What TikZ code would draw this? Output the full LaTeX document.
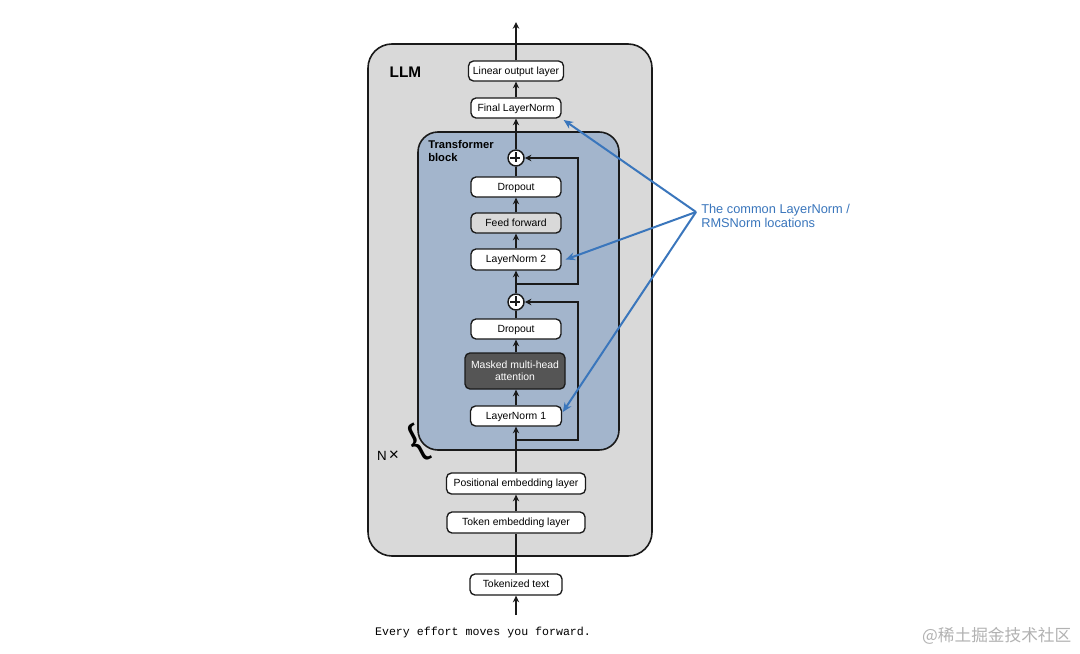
\documentclass[tikz,border=0pt]{standalone}
\usepackage{fontspec}
\setmainfont{Liberation Sans}
\setmonofont{Liberation Mono}
\newfontfamily\cjk{Noto Sans CJK SC}
\usetikzlibrary{arrows.meta}
\definecolor{llmgray}{HTML}{D9D9D9}
\definecolor{tbblue}{HTML}{A3B5CC}
\definecolor{mhagray}{HTML}{555555}
\definecolor{annblue}{HTML}{3A76BC}
\definecolor{edge}{HTML}{1A1A1A}
\tikzset{
  box/.style={draw=edge, line width=1pt, rounded corners=3.75pt, fill=white,
    font=\fontsize{7.8}{9}\selectfont, inner sep=0pt, align=center},
  onel/.style={text height=5.4pt, text depth=0.6pt},
  plusc/.style={draw=edge, line width=1.1pt, circle, fill=white, minimum size=12pt, inner sep=0pt},
  flow/.style={draw=edge, line width=1.4pt, -{Stealth[length=5pt,width=4.8pt]}},
  plainflow/.style={draw=edge, line width=1.4pt},
  ann/.style={draw=annblue, line width=1.5pt, -{Stealth[length=7pt,width=6pt]}},
}
\begin{document}
\begin{tikzpicture}[x=0.75pt,y=-0.75pt]
\useasboundingbox (0,0) rectangle (1080,653);
\fill[white] (0,0) rectangle (1080,653);
% LLM container
\draw[draw=edge, line width=1.2pt, fill=llmgray, rounded corners=18pt] (368,44) rectangle (652,556);
\node[anchor=west, font=\bfseries\fontsize{11.5}{13}\selectfont] (llmlabel) at (385,72) {LLM};
% Transformer block
\draw[draw=edge, line width=1.2pt, fill=tbblue, rounded corners=15pt] (418,132) rectangle (619,450);
\node[anchor=north west, align=left, font=\bfseries\fontsize{8.4}{10}\selectfont, inner sep=0pt] (tblabel) at (428,140) {Transformer\\block};
% boxes
\node[box, onel, minimum width=71.25pt, minimum height=15pt] (lin) at (516,71) {Linear output layer};
\node[box, onel, minimum width=67.5pt, minimum height=15pt] (fln) at (516,108) {Final LayerNorm};
\node[plusc] (plus1) at (516,158) {};
\draw[line width=1.1pt, draw=edge] (plus1.north) ++(0,3) -- ++(0,10);
\draw[line width=1.1pt, draw=edge] (plus1.west) ++(3,0) -- ++(10,0);
\node[box, onel, minimum width=67.5pt, minimum height=15pt] (do2) at (516,187) {Dropout};
\node[box, onel, fill=llmgray, minimum width=67.5pt, minimum height=15pt] (ff) at (516,223) {Feed forward};
\node[box, onel, minimum width=67.5pt, minimum height=15.75pt] (ln2) at (516,259.5) {LayerNorm 2};
\node[plusc] (plus2) at (516,302) {};
\draw[line width=1.1pt, draw=edge] (plus2.north) ++(0,3) -- ++(0,10);
\draw[line width=1.1pt, draw=edge] (plus2.west) ++(3,0) -- ++(10,0);
\node[box, onel, minimum width=67.5pt, minimum height=15pt] (do1) at (516,329) {Dropout};
\node[box, fill=mhagray, text=white, minimum width=75pt, minimum height=27pt] (mha) at (515,371) {Masked multi-head\\attention};
\node[box, onel, minimum width=68.25pt, minimum height=15pt] (ln1) at (516,416) {LayerNorm 1};
\node[box, onel, minimum width=104.25pt, minimum height=15.75pt] (pos) at (516,483.5) {Positional embedding layer};
\node[box, onel, minimum width=103.5pt, minimum height=15.75pt] (tok) at (516,522.5) {Token embedding layer};
\node[box, onel, minimum width=69pt, minimum height=15.75pt] (tt) at (516,584.5) {Tokenized text};
\node[font=\ttfamily\fontsize{8.7}{10}\selectfont] (sent) at (483,632) {Every effort moves you forward.};
% N x brace
\node[font=\fontsize{10}{12}\selectfont, inner sep=0pt] (nx) at (388,456) {N\,{\fontsize{13}{12}\selectfont ×}};
\node[rotate=28, font=\fontsize{32}{32}\selectfont, inner sep=0pt] (brace) at (418,443) {\{};
% coordinates
\coordinate (inp) at (516,615);
\coordinate (outp) at (516,22);
\coordinate (s1) at (516,440);
\coordinate (s1r) at (578,440);
\coordinate (s1t) at (578,302);
\coordinate (s2) at (516,284);
\coordinate (s2r) at (578,284);
\coordinate (s2t) at (578,158);
% main flow
\draw[flow] (inp) -- (tt.south);
\draw[plainflow] (tt.north) -- (tok.south);
\draw[flow] (tok.north) -- (pos.south);
\draw[flow] (pos.north) -- (ln1.south);
\draw[flow] (ln1.north) -- (mha.south -| ln1.north);
\draw[flow] (mha.north -| ln1.north) -- (do1.south);
\draw[plainflow] (do1.north) -- (plus2.south);
\draw[flow] (plus2.north) -- (ln2.south);
\draw[flow] (ln2.north) -- (ff.south);
\draw[flow] (ff.north) -- (do2.south);
\draw[plainflow] (do2.north) -- (plus1.south);
\draw[flow] (plus1.north) -- (fln.south);
\draw[flow] (fln.north) -- (lin.south);
\draw[flow] (lin.north) -- (outp);
% residuals
\draw[flow] (s1) -- (s1r) -- (s1t) -- (plus2.east);
\draw[flow] (s2) -- (s2r) -- (s2t) -- (plus1.east);
% annotation
\coordinate (hub) at (696,212);
\node[anchor=west, align=left, text=annblue, font=\fontsize{9.6}{10.6}\selectfont, inner sep=0pt] (anntext) at (701,216) {The common LayerNorm /\\RMSNorm locations};
\draw[ann] (hub) -- ([xshift=1.5pt,yshift=-1pt]fln.south east);
\draw[ann] (hub) -- ([xshift=3pt]ln2.east);
\draw[ann] (hub) -- ([xshift=0.5pt,yshift=3pt]ln1.east);
% watermark
\node[text=black!30, font=\cjk\fontsize{12.5}{14}\selectfont, anchor=east] (wm) at (1076,636) {@稀土掘金技术社区};
\end{tikzpicture}
\end{document}
